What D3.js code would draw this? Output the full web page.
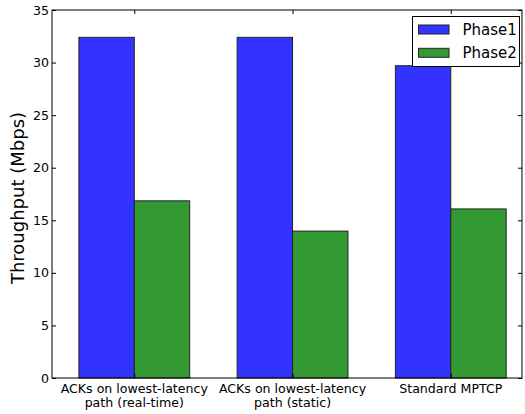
<!DOCTYPE html>
<html>
<head>
<meta charset="utf-8">
<script src="https://cdn.jsdelivr.net/npm/d3@7"></script>
<style>
  html, body { margin: 0; padding: 0; background: #fff; }
  svg { display: block; font-family: "DejaVu Sans", sans-serif; }
</style>
</head>
<body>
<svg id="chart" width="525" height="414"></svg>
<script>
// Throughput per ACK strategy, two phases
const categories = [
  ["ACKs on lowest-latency", "path (real-time)"],
  ["ACKs on lowest-latency", "path (static)"],
  ["Standard MPTCP"]
];
const seriesNames = ["Phase1", "Phase2"];
const phase1 = [32.4, 32.4, 29.7];
const phase2 = [16.85, 13.97, 16.08];
const yTicks = [0, 5, 10, 15, 20, 25, 30, 35];

const colors = ["#3333ff", "#339933"];
const barWidth = 0.35;

const svg = d3.select("#chart");
const plotL = 52, plotR = 522, plotT = 10, plotB = 378;

const x = d3.scaleLinear().domain([-0.17, 2.80]).range([plotL, plotR]);
const y = d3.scaleLinear().domain([0, 35]).range([plotB, plotT]);

const series = [phase1, phase2];

// bars
series.forEach((vals, s) => {
  svg.append("g").selectAll("rect")
    .data(vals)
    .join("rect")
    .attr("x", (d, i) => x(i + s * barWidth))
    .attr("width", x(barWidth) - x(0))
    .attr("y", d => y(d))
    .attr("height", d => y(0) - y(d))
    .attr("fill", colors[s])
    .attr("stroke", "#222")
    .attr("stroke-width", 1);
});

// y axes, ticks pointing inward on both sides
const yAxisL = svg.append("g")
  .attr("transform", `translate(${plotL},0)`)
  .call(d3.axisLeft(y).tickValues(yTicks).tickSize(-4).tickPadding(3).tickFormat(d3.format("d")));
const yAxisR = svg.append("g")
  .attr("transform", `translate(${plotR},0)`)
  .call(d3.axisRight(y).tickValues(yTicks).tickSize(-4).tickFormat(""));

// x axes at group centres
const centers = categories.map((c, i) => i + barWidth);
const xAxisB = svg.append("g")
  .attr("transform", `translate(0,${plotB})`)
  .call(d3.axisBottom(x).tickValues(centers).tickSize(-4).tickFormat(""));
const xAxisT = svg.append("g")
  .attr("transform", `translate(0,${plotT})`)
  .call(d3.axisTop(x).tickValues(centers).tickSize(-4).tickFormat(""));

[yAxisL, yAxisR, xAxisB, xAxisT].forEach(g => {
  g.select(".domain").remove();
  g.selectAll(".tick line").attr("stroke", "#000");
  g.selectAll("text").attr("font-size", "12.6px").attr("fill", "#000")
    .attr("font-family", "DejaVu Sans, sans-serif");
});

// category labels
const catG = svg.append("g");
categories.forEach((lines, i) => {
  const t = catG.append("text")
    .attr("x", x(centers[i]))
    .attr("y", plotB + 15)
    .attr("text-anchor", "middle")
    .attr("font-size", "12.6px");
  lines.forEach((ln, k) => {
    t.append("tspan").attr("x", x(centers[i])).attr("dy", k === 0 ? 0 : 13.5).text(ln);
  });
});

// frame
svg.append("rect")
  .attr("x", plotL).attr("y", plotT)
  .attr("width", plotR - plotL).attr("height", plotB - plotT)
  .attr("fill", "none").attr("stroke", "#000").attr("stroke-width", 1);

// y label
svg.append("text")
  .attr("transform", `translate(24,${(plotT + plotB) / 2 + 4}) rotate(-90)`)
  .attr("text-anchor", "middle")
  .attr("font-size", "18px")
  .text("Throughput (Mbps)");

// legend
const lg = svg.append("g");
lg.append("rect")
  .attr("x", 412.5).attr("y", 16.5).attr("width", 107).attr("height", 50)
  .attr("fill", "#fff").attr("stroke", "#000").attr("stroke-width", 1);
seriesNames.forEach((name, s) => {
  const yy = 25 + s * 23.3;
  lg.append("rect")
    .attr("x", 418.5).attr("y", yy).attr("width", 30.5).attr("height", 9)
    .attr("fill", colors[s]).attr("stroke", "#222").attr("stroke-width", 1);
  lg.append("text")
    .attr("x", 462.5).attr("y", yy + 10)
    .attr("font-size", "15px")
    .text(name);
});
</script>
</body>
</html>
